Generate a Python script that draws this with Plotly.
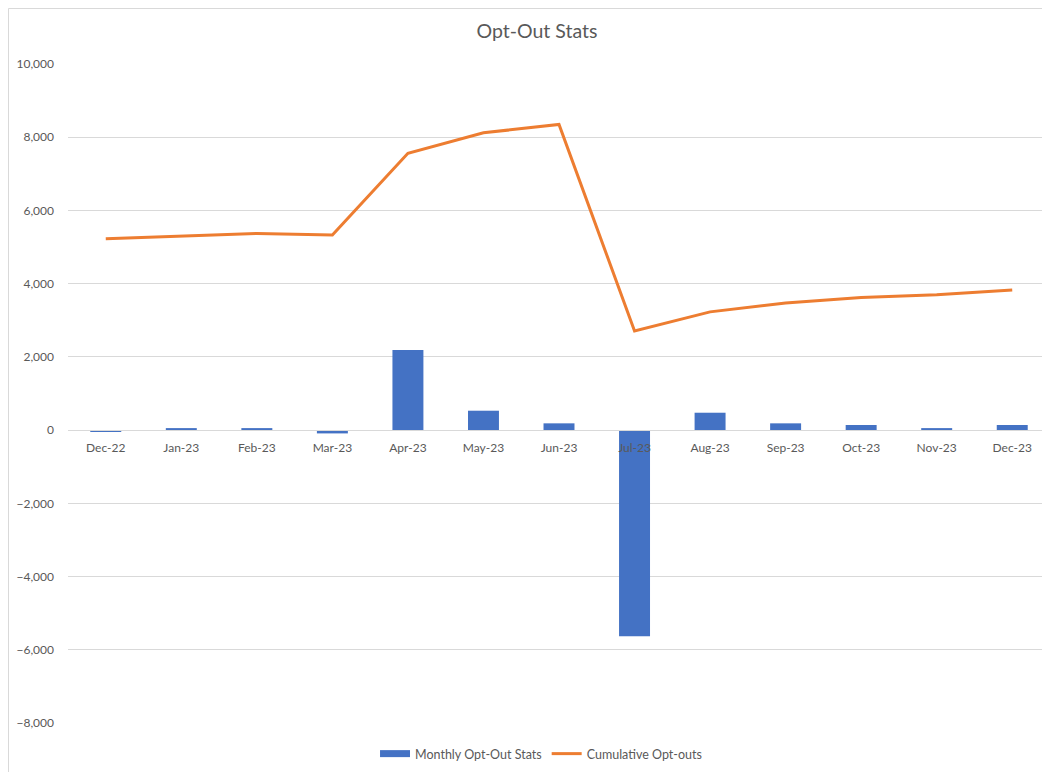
import plotly.graph_objects as go

months = ["Dec-22", "Jan-23", "Feb-23", "Mar-23", "Apr-23", "May-23", "Jun-23",
          "Jul-23", "Aug-23", "Sep-23", "Oct-23", "Nov-23", "Dec-23"]
monthly = [-25, 55, 55, -90, 2190, 530, 185, -5630, 475, 185, 140, 55, 140]
cumulative = [5230, 5300, 5370, 5330, 7560, 8120, 8350, 2710, 3230, 3470, 3620, 3700, 3830]
y_ticks = [-8000, -6000, -4000, -2000, 0, 2000, 4000, 6000, 8000, 10000]

FONT = "Lato, Carlito, Calibri, sans-serif"
GREY = "#595959"
BLUE = "#4472C4"
ORANGE = "#ED7D31"
y_min, y_max = -8000, 10000

# The page body adds an 8px offset, so the figure is sized 8px smaller.
W, H = 1042, 764
ML, MT, MB, MR = 60, 56, 49, 0
PW, PH = W - ML - MR, H - MT - MB

fig = go.Figure()
fig.add_trace(go.Bar(
    x=months, y=monthly, name="Monthly Opt-Out Stats", showlegend=False,
    marker=dict(color=BLUE, line=dict(width=0)), width=0.41,
))
fig.add_trace(go.Scatter(
    x=months, y=cumulative, name="Cumulative Opt-outs", mode="lines", showlegend=False,
    line=dict(color=ORANGE, width=3),
))
# legend entries (bar shown as a wide patch, as in the original)
fig.add_trace(go.Scatter(
    x=[None], y=[None], name="Monthly Opt-Out Stats", mode="lines",
    line=dict(color=BLUE, width=7), hoverinfo="skip",
))
fig.add_trace(go.Scatter(
    x=[None], y=[None], name="Cumulative Opt-outs", mode="lines",
    line=dict(color=ORANGE, width=3), hoverinfo="skip",
))

zero_pos = (0 - y_min) / (y_max - y_min)

fig.update_layout(
    width=W, height=H,
    margin=dict(l=ML, r=MR, t=MT, b=MB),
    paper_bgcolor="white", plot_bgcolor="white",
    font=dict(family=FONT, size=12, color=GREY),
    title=dict(text="Opt-Out Stats", x=529 / W, xanchor="center", y=1 - 23 / H, yanchor="middle",
               font=dict(family=FONT, size=19.5, color=GREY)),
    showlegend=True,
    legend=dict(orientation="h", x=0.4817, xanchor="center", y=-31 / PH, yanchor="middle",
                font=dict(family=FONT, size=12.5, color=GREY), itemwidth=30,
                traceorder="normal", bgcolor="rgba(0,0,0,0)"),
    xaxis=dict(type="category", anchor="free", position=zero_pos, automargin=False,
               showline=True, linecolor="#D9D9D9", linewidth=1,
               showgrid=False, ticks="", tickfont=dict(family=FONT, size=12, color=GREY),
               ticklabelstandoff=6, zeroline=False),
    yaxis=dict(range=[y_min, y_max], tickvals=y_ticks, tickformat=",", automargin=False,
               showgrid=True, gridcolor="#D9D9D9", gridwidth=1,
               zeroline=False, showline=False, ticks="",
               ticklabelstandoff=13,
               tickfont=dict(family=FONT, size=12, color=GREY)),
    shapes=[
        dict(type="line", xref="paper", yref="paper",
             x0=(0.5 - ML) / PW, x1=(0.5 - ML) / PW, y0=-MB / PH, y1=(PH + MT - 0.5) / PH,
             line=dict(color="#D9D9D9", width=1)),
        dict(type="line", xref="paper", yref="paper",
             x0=(0.5 - ML) / PW, x1=1.0, y0=(PH + MT - 0.5) / PH, y1=(PH + MT - 0.5) / PH,
             line=dict(color="#D9D9D9", width=1)),
    ],
)

fig.write_html("out.html")
